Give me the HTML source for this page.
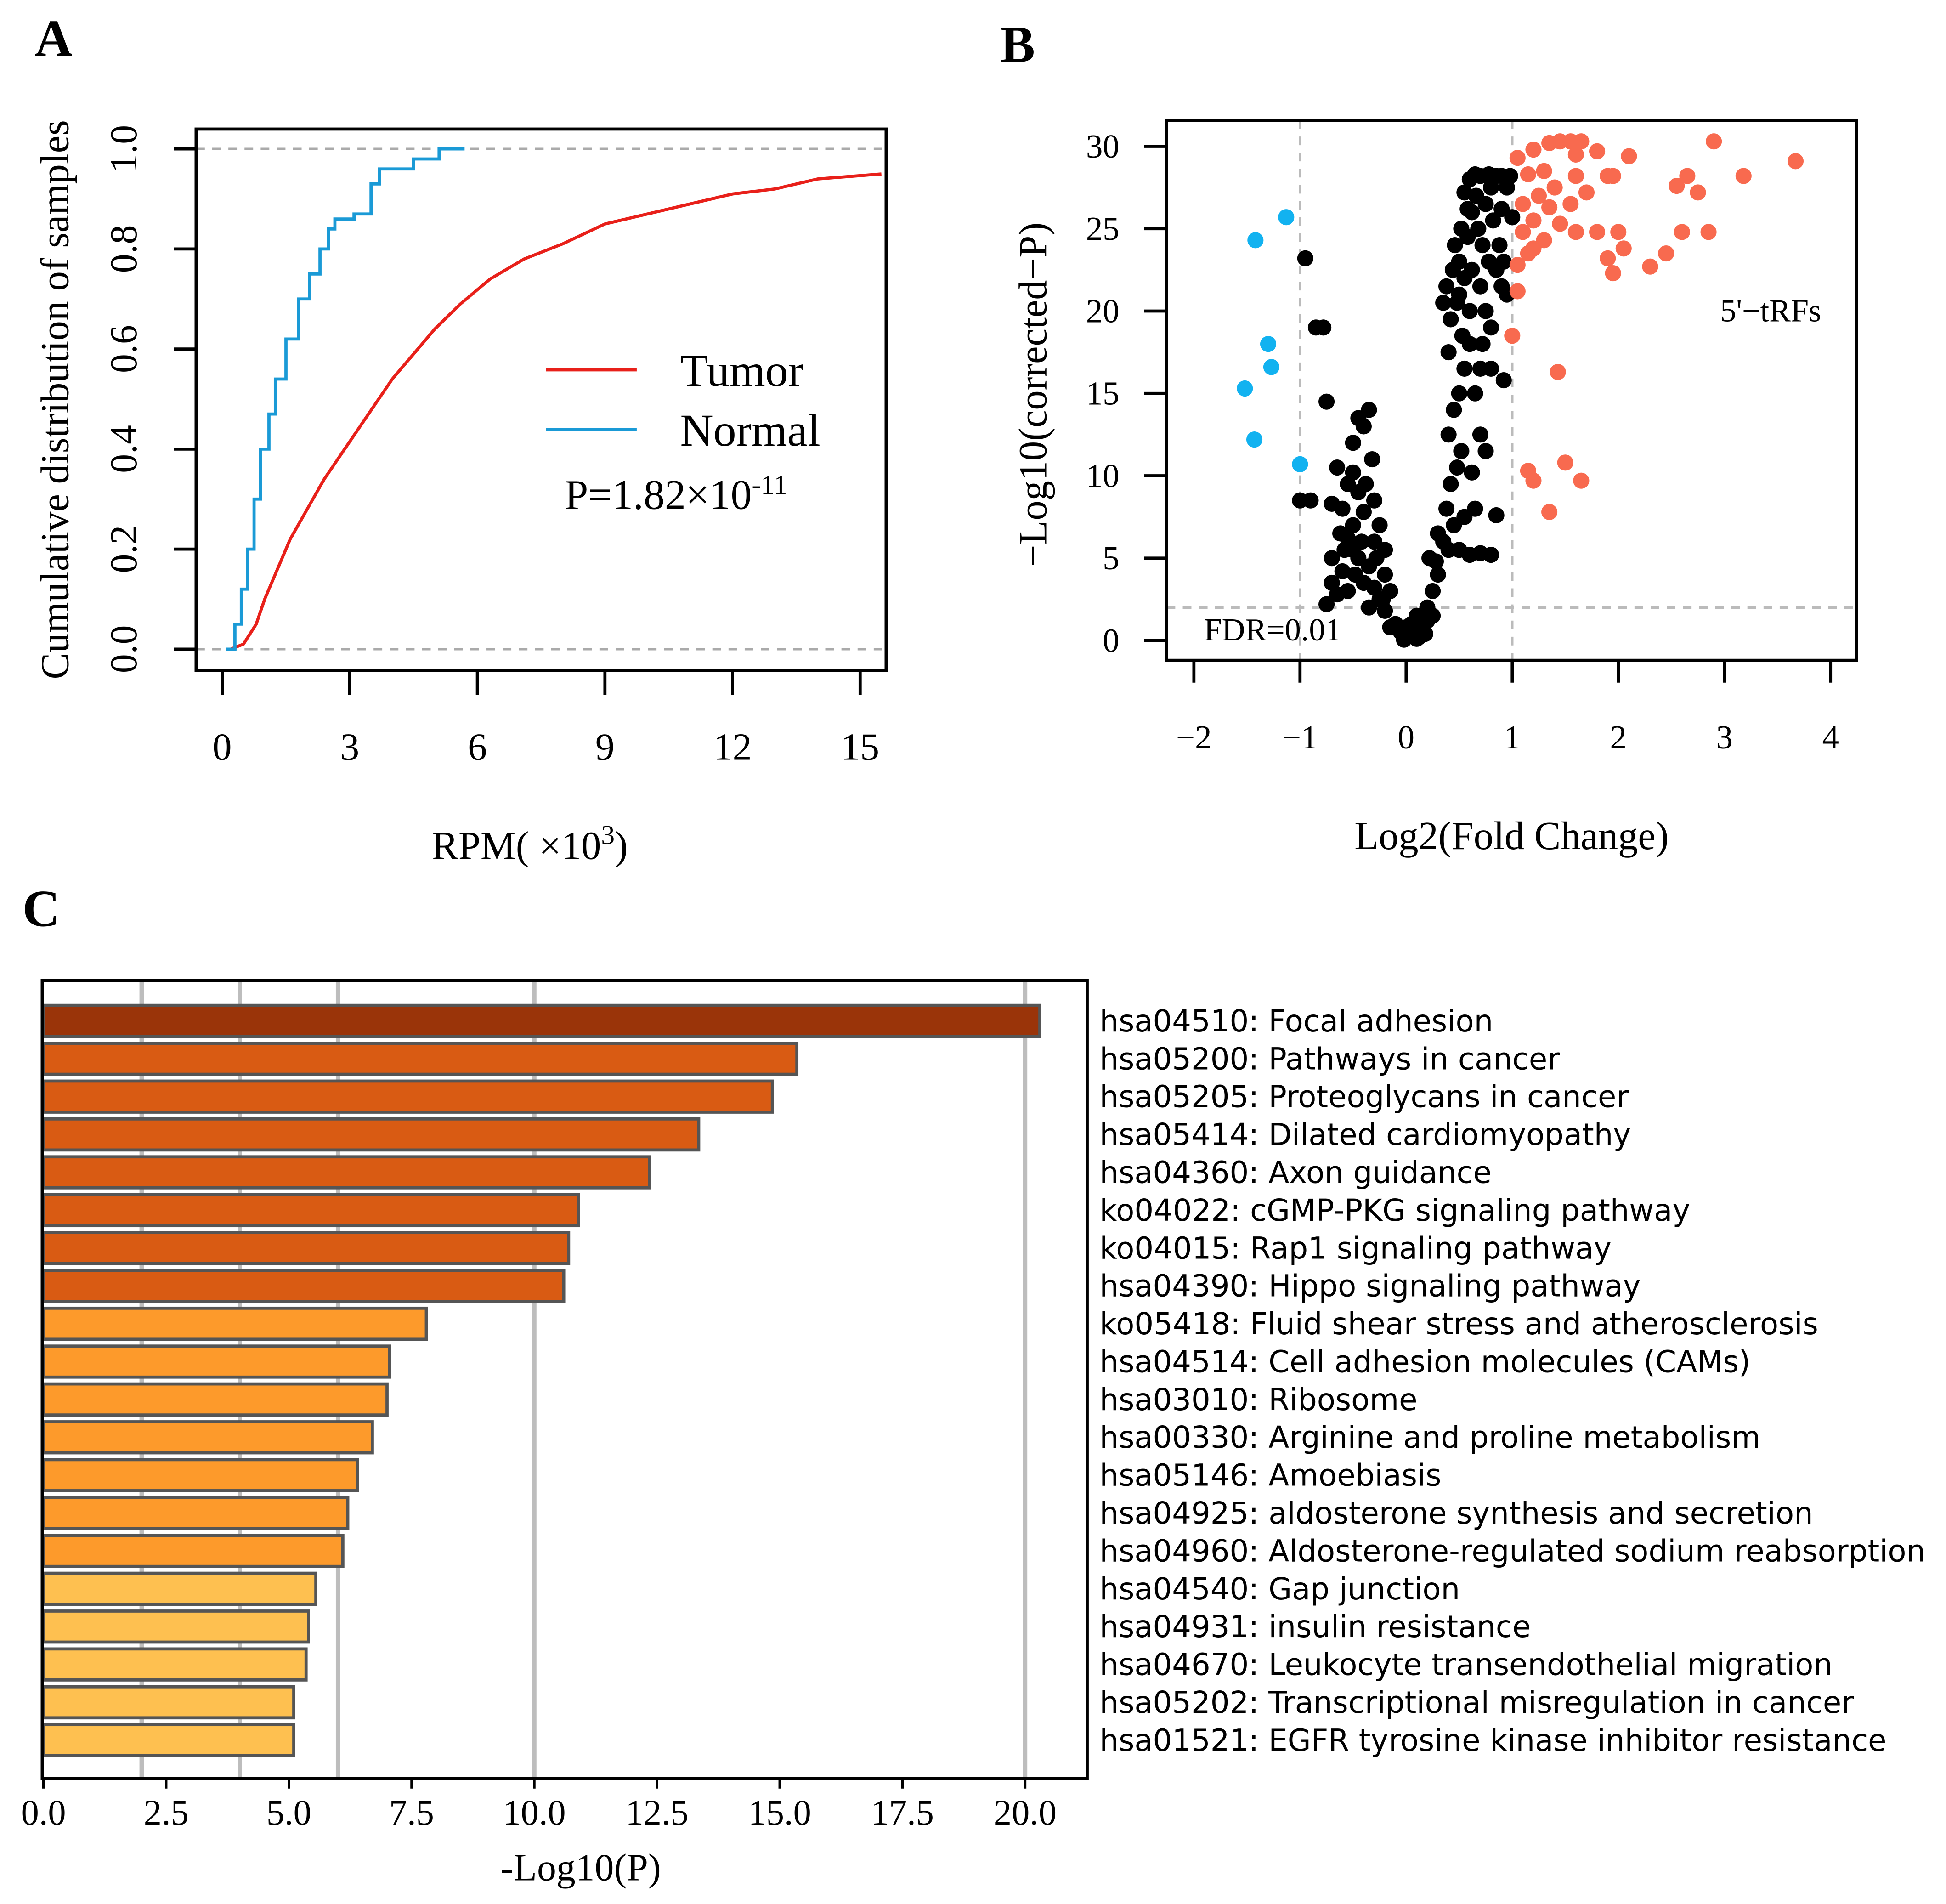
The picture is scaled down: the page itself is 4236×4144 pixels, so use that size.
<!DOCTYPE html>
<html><head><meta charset="utf-8"><style>html,body{margin:0;padding:0;background:#fff}svg{display:block}</style></head>
<body>
<svg id="fig" xmlns="http://www.w3.org/2000/svg" width="4236" height="4144" viewBox="0 0 1568 1534" font-family="'Liberation Serif', serif">
<rect width="1568" height="1534" fill="#fff"/>
<text x="28" y="45" font-size="42" font-weight="bold">A</text>
<text x="806" y="50" font-size="42" font-weight="bold">B</text>
<text x="18" y="746" font-size="42" font-weight="bold">C</text>
<g id="pa"></g>
<g id="pb"></g>
<g id="pc"></g>
</svg>
<script>
// ---------- Panel A data ----------
const tumorX = [0.2,0.5,0.8,1.0,1.3,1.6,2.0,2.4,2.8,3.2,3.6,4.0,4.5,5.0,5.6,6.3,7.1,8.0,9.0,10,11,12,13,14,15.5];
const tumorY = [0,0.01,0.05,0.1,0.16,0.22,0.28,0.34,0.39,0.44,0.49,0.54,0.59,0.64,0.69,0.74,0.78,0.81,0.85,0.87,0.89,0.91,0.92,0.94,0.95];
const normalX = [0.1,0.3,0.45,0.6,0.75,0.9,1.1,1.25,1.5,1.8,2.05,2.3,2.5,2.65,3.1,3.5,3.7,4.5,5.1,5.7];
const normalY = [0,0.05,0.12,0.2,0.3,0.4,0.47,0.54,0.62,0.7,0.75,0.8,0.84,0.86,0.87,0.93,0.96,0.98,1.0,1.0];
const aXTicks = [0,3,6,9,12,15];
const aYTicks = [0.0,0.2,0.4,0.6,0.8,1.0];
// ---------- Panel B data ----------
const blueX=[-1.42,-1.13,-1.3,-1.27,-1.52,-1.43,-1.0];
const blueY=[24.3,25.7,18,16.6,15.3,12.2,10.7];
const redX=[1.05,1.2,1.35,1.45,1.55,1.65,1.6,1.8,1.95,2.1,2.9,3.67,3.18,2.65,2.55,2.75,1.15,1.3,1.4,1.6,1.7,1.9,1.25,1.1,1.35,1.55,1.2,1.45,1.6,1.8,2.0,1.1,1.3,1.2,1.05,1.15,1.9,2.05,1.95,2.3,2.45,2.6,2.85,1.05,1.0,1.43,1.15,1.2,1.5,1.65,1.35];
const redY=[29.3,29.8,30.2,30.3,30.3,30.3,29.5,29.7,28.2,29.4,30.3,29.1,28.2,28.2,27.6,27.2,28.3,28.5,27.5,28.2,27.2,28.2,27,26.5,26.3,26.5,25.5,25.3,24.8,24.8,24.8,24.8,24.3,23.8,22.8,23.5,23.2,23.8,22.3,22.7,23.5,24.8,24.8,21.2,18.5,16.3,10.3,9.7,10.8,9.7,7.8];
const blackX=[0,0.05,-0.05,0.1,0.15,-0.1,0.2,0.1,-0.15,0.05,0,0.25,-0.2,0.12,0.18,-0.02,
-0.25,-0.3,-0.2,-0.35,-0.4,-0.45,-0.5,-0.3,-0.55,-0.6,-0.65,-0.7,-0.75,-0.5,-0.4,-0.3,-0.6,-0.7,-0.45,-0.55,-0.65,-0.5,-0.4,-0.35,-0.45,-0.75,-0.9,-1.0,-0.85,-0.78,-0.95,-0.2,-0.25,-0.15,-0.35,-0.55,-0.62,-0.42,-0.28,-0.22,-0.48,-0.58,-0.7,-0.38,-0.32,-0.5,
0.2,0.25,0.3,0.22,0.35,0.28,0.4,0.3,0.38,0.45,0.5,0.6,0.7,0.8,0.55,0.65,0.42,0.48,0.52,0.62,0.7,0.75,0.85,0.4,0.45,0.5,0.55,0.6,0.7,0.8,0.65,0.4,0.42,0.48,0.38,0.44,0.5,0.55,0.6,0.7,0.75,0.8,0.85,0.9,0.95,0.46,0.52,0.58,0.62,0.68,0.72,0.78,0.82,0.88,0.92,0.55,0.6,0.66,0.7,0.75,0.8,0.85,0.9,0.95,1.0,0.65,0.78,0.58,0.5,0.35,0.92,0.98,0.9,0.72,0.62,0.53];
const blackY=[0.2,0.3,0.5,0.1,0.6,1,1.2,1.5,0.8,1,0.8,1.5,1.8,0.2,0.4,0.05,
2.5,3.2,4,4.5,3.5,5,5.5,6,6.2,4.2,2.8,3.5,2.2,7,7.8,8.5,8,8.3,9,9.5,10.5,12,13,14,13.5,14.5,8.5,8.5,19,19,23.2,5.5,7,3,2,3,6.5,6,5,2.5,4,5.5,5,9.5,11,10.2,
2,3,4,5,6,4.8,5.5,6.5,8,7,5.5,5.2,5.3,5.2,7.5,8,9.5,10.5,11.5,10.2,12.5,11.5,7.6,12.5,14,15,16.5,18,16.5,16.5,15,17.5,19.5,20.5,21.5,22.5,23,22,20,21.5,20,19,22.5,21.5,21,24,25,24.5,26,25,24,23,25.5,24,23,27.2,28,27,28.2,26.5,27.5,28.2,28.2,27.5,25.7,28.3,28.3,26.2,21,20.5,15.8,28.2,26.2,18,22.5,18.5];
const bXTicks=[-2,-1,0,1,2,3,4];
const bYTicks=[0,5,10,15,20,25,30];
// ---------- Panel C data ----------
const pathways=["hsa04510: Focal adhesion","hsa05200: Pathways in cancer","hsa05205: Proteoglycans in cancer","hsa05414: Dilated cardiomyopathy","hsa04360: Axon guidance","ko04022: cGMP-PKG signaling pathway","ko04015: Rap1 signaling pathway","hsa04390: Hippo signaling pathway","ko05418: Fluid shear stress and atherosclerosis","hsa04514: Cell adhesion molecules (CAMs)","hsa03010: Ribosome","hsa00330: Arginine and proline metabolism","hsa05146: Amoebiasis","hsa04925: aldosterone synthesis and secretion","hsa04960: Aldosterone-regulated sodium reabsorption","hsa04540: Gap junction","hsa04931: insulin resistance","hsa04670: Leukocyte transendothelial migration","hsa05202: Transcriptional misregulation in cancer","hsa01521: EGFR tyrosine kinase inhibitor resistance"];
const logP=[20.3,15.35,14.85,13.35,12.35,10.9,10.7,10.6,7.8,7.05,7.0,6.7,6.4,6.2,6.1,5.55,5.4,5.35,5.1,5.1];
const cXTicks=[0,2.5,5,7.5,10,12.5,15,17.5,20];
const cGrid=[2,4,6,10,20];

const NS='http://www.w3.org/2000/svg';
function mk(parent,tag,attrs,txt){const e=document.createElementNS(NS,tag);for(const k in attrs)e.setAttribute(k,attrs[k]);if(txt!==undefined)e.textContent=txt;parent.appendChild(e);return e;}

// ===== Panel A =====
(function(){
const g=document.getElementById('pa');
const ax=v=>179+v*34.27, ay=v=>523-v*403;
[0,1].forEach(v=>{const l=mk(g,'line',{x1:158,x2:714,y1:ay(v),y2:ay(v),stroke:'#aaa','stroke-width':2,'stroke-dasharray':'7,6'});

});
let d='';tumorX.forEach((x,i)=>{d+=(i?'L':'M')+Math.min(ax(x),714)+','+ay(tumorY[i]);});
const t=mk(g,'path',{d:d,fill:'none',stroke:'#e8201a','stroke-width':2.5,'stroke-linejoin':'round'});


d='';normalX.forEach((x,i)=>{if(i){d+='L'+ax(x)+','+ay(normalY[i-1]);}d+=(i?'L':'M')+ax(x)+','+ay(normalY[i]);});
const n=mk(g,'path',{d:d,fill:'none',stroke:'#1a9ad6','stroke-width':2.5});


const fr=mk(g,'rect',{x:158,y:104,width:556,height:436,fill:'none',stroke:'#000','stroke-width':2.5});


aXTicks.forEach(v=>{mk(g,'line',{x1:ax(v),x2:ax(v),y1:540,y2:560,stroke:'#000','stroke-width':2.5});
const tx=mk(g,'text',{x:ax(v),y:612,'font-size':31,'text-anchor':'middle'},String(v));

});
aYTicks.forEach(v=>{mk(g,'line',{x1:140,x2:158,y1:ay(v),y2:ay(v),stroke:'#000','stroke-width':2.5});
const tx=mk(g,'text',{x:0,y:0,'font-size':31,'text-anchor':'middle',transform:`translate(110,${ay(v)}) rotate(-90)`},v.toFixed(1));

});
const yl=mk(g,'text',{x:0,y:0,'font-size':32,'text-anchor':'middle',transform:'translate(55,322) rotate(-90)'},'Cumulative distribution of samples');


const xl=mk(g,'text',{x:348,y:692,'font-size':32},'RPM( ×10');


mk(xl,'tspan',{dy:-12,'font-size':22},'3');mk(xl,'tspan',{dy:12},')');
mk(g,'line',{x1:440,x2:513,y1:298,y2:298,stroke:'#e8201a','stroke-width':2.5});
const le1=mk(g,'text',{x:548,y:311,'font-size':37},'Tumor');


mk(g,'line',{x1:440,x2:513,y1:346,y2:346,stroke:'#1a9ad6','stroke-width':2.5});
const le2=mk(g,'text',{x:548,y:359,'font-size':37},'Normal');


const p=mk(g,'text',{x:455,y:410,'font-size':34},'P=1.82×10');


mk(p,'tspan',{dy:-12,'font-size':22},'-11');
})();

// ===== Panel B =====
(function(){
const g=document.getElementById('pb');
const bx=v=>1133+v*85.5, by=v=>516-v*13.27;
[-1,1].forEach(v=>{mk(g,'line',{x1:bx(v),x2:bx(v),y1:97,y2:532,stroke:'#bbb','stroke-width':2,'stroke-dasharray':'7,6'});});
mk(g,'line',{x1:940,x2:1496,y1:by(2),y2:by(2),stroke:'#bbb','stroke-width':2,'stroke-dasharray':'7,6'});
function pts(X,Y,col,name){X.forEach((x,i)=>{const c=mk(g,'circle',{cx:bx(x),cy:by(Y[i]),r:6.5,fill:col});

});}
pts(blackX,blackY,'#000','point-ns');
pts(redX,redY,'#f86a4f','point-up');
pts(blueX,blueY,'#12b2f0','point-down');
const fr=mk(g,'rect',{x:940,y:97,width:556,height:435,fill:'none',stroke:'#000','stroke-width':2.5});


bXTicks.forEach(v=>{mk(g,'line',{x1:bx(v),x2:bx(v),y1:532,y2:550,stroke:'#000','stroke-width':2.5});
const tx=mk(g,'text',{x:bx(v),y:603,'font-size':27,'text-anchor':'middle'},v<0?'−'+(-v):String(v));

});
bYTicks.forEach(v=>{mk(g,'line',{x1:922,x2:940,y1:by(v),y2:by(v),stroke:'#000','stroke-width':2.5});
const tx=mk(g,'text',{x:902,y:by(v)+9,'font-size':27,'text-anchor':'end'},String(v));

});
const yl=mk(g,'text',{x:0,y:0,'font-size':32,'text-anchor':'middle',transform:'translate(843,318) rotate(-90)'},'−Log10(corrected−P)');


const xl=mk(g,'text',{x:1218,y:684,'font-size':32,'text-anchor':'middle'},'Log2(Fold Change)');


const f=mk(g,'text',{x:970,y:516,'font-size':26},'FDR=0.01');


const r=mk(g,'text',{x:1386,y:259,'font-size':26},"5'−tRFs");


})();

// ===== Panel C =====
(function(){
const g=document.getElementById('pc');
const cx=v=>35+v*39.55;
cGrid.forEach(v=>{const l=mk(g,'line',{x1:cx(v),x2:cx(v),y1:790,y2:1433,stroke:'#bdbdbd','stroke-width':3.5});

});
const cols=i=>i===0?'#9a3409':i<8?'#d95b13':i<15?'#fd9a2b':'#fec050';
logP.forEach((v,i)=>{const y=810+i*30.5;
const b=mk(g,'rect',{x:35,y:y,width:cx(v)-35,height:25,fill:cols(i),stroke:'#555','stroke-width':2.5});


const t=mk(g,'text',{x:886,y:y+21,'font-size':24.3,'font-family':"'DejaVu Sans', sans-serif"},pathways[i]);

});
const fr=mk(g,'rect',{x:34,y:790,width:842,height:643,fill:'none',stroke:'#000','stroke-width':2.5});


cXTicks.forEach(v=>{mk(g,'line',{x1:cx(v),x2:cx(v),y1:1433,y2:1441,stroke:'#000','stroke-width':2});
const tx=mk(g,'text',{x:cx(v),y:1470,'font-size':29,'text-anchor':'middle'},v.toFixed(1));

});
const xl=mk(g,'text',{x:468,y:1515,'font-size':31,'text-anchor':'middle'},'-Log10(P)');


})();
</script>
</body></html>
